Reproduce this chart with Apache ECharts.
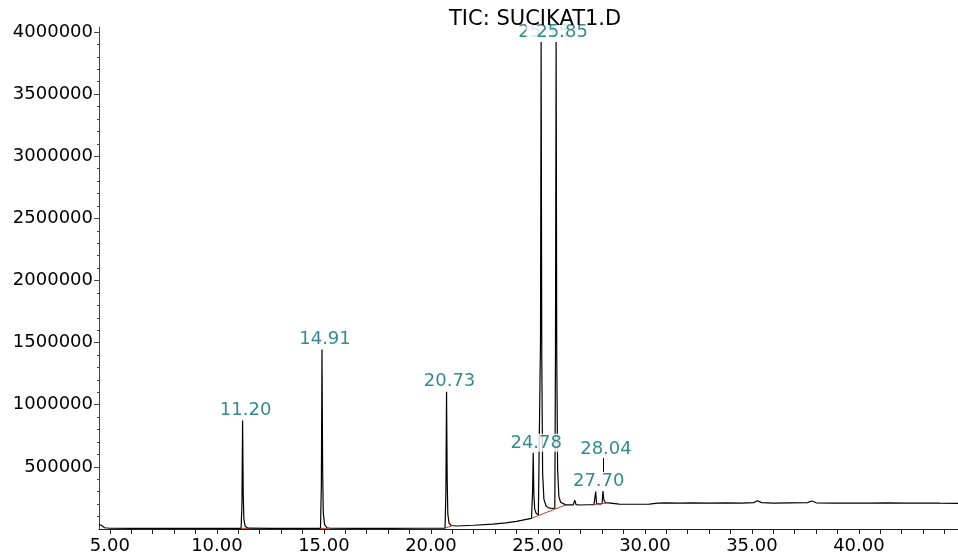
<!DOCTYPE html>
<html>
<head>
<meta charset="utf-8">
<script src="https://cdn.jsdelivr.net/npm/echarts@6/dist/echarts.min.js"></script>
<style>
html,body{margin:0;padding:0;background:#fff;}
#chart{width:958px;height:556px;}
</style>
</head>
<body>
<div id="chart"></div>
<script>
// ---- data (retention time in minutes, abundance) ----
const traceTimes = [
  4.49, 4.6, 4.75, 5.0, 6.0, 7.0, 8.0, 8.68, 8.72, 8.78, 9.5, 10.5,
  11.13, 11.17, 11.20, 11.23, 11.26, 11.32, 11.45, 12.5, 13.28, 13.32, 13.38, 14.0,
  14.84, 14.88, 14.91, 14.94, 14.97, 15.03, 15.15, 15.3, 16.5, 18.0, 19.5,
  20.66, 20.70, 20.73, 20.76, 20.79, 20.85, 20.95, 21.2, 22.0, 22.9, 22.97, 23.02,
  23.5, 24.0, 24.4, 24.7, 24.75, 24.78, 24.81, 24.85, 24.92, 25.02, 25.08,
  25.12, 25.15, 25.18, 25.22, 25.28, 25.38, 25.5, 25.65, 25.79,
  25.82, 25.85, 25.88, 25.92, 25.98, 26.06, 26.15, 26.3, 26.65, 26.72, 26.78,
  27.0, 27.3, 27.62, 27.66, 27.70, 27.74, 27.9, 28.0, 28.04, 28.08, 28.15, 28.3,
  28.8, 29.5, 30.2, 30.6, 31.0, 31.6, 32.2, 33.0, 33.8, 34.5, 35.1, 35.25, 35.45,
  36.0, 36.8, 37.6, 37.8, 38.0, 38.8, 39.6, 40.5, 41.3, 42.2, 43.0, 43.8, 44.63
];
const traceValues = [
  35000, 30000, 10000, 6000, 5000, 4500, 5000, 5000, 14000, 5000, 4500, 4500,
  5000, 200000, 873000, 280000, 80000, 22000, 7000, 5000, 5000, 15000, 5000, 4500,
  5000, 350000, 1444000, 480000, 130000, 35000, 10000, 6000, 5000, 5500, 6000,
  7000, 300000, 1105000, 400000, 120000, 45000, 28000, 24000, 30000, 40000, 55000, 42000,
  50000, 62000, 75000, 85000, 300000, 613000, 280000, 160000, 125000, 115000, 125000,
  1500000, 3920000, 1400000, 450000, 240000, 185000, 170000, 165000, 168000,
  1400000, 3920000, 1400000, 480000, 260000, 215000, 200000, 194000, 194000, 232000, 196000,
  193000, 195000, 196000, 200000, 301000, 205000, 200000, 205000, 305000, 235000, 213000, 210000,
  200000, 199000, 200000, 208000, 210000, 208000, 211000, 209000, 211000, 209000, 213000, 228000, 212000,
  208000, 211000, 212000, 225000, 211000, 209000, 208000, 209000, 211000, 208000, 209000, 208000, 207000
];

// integration baselines (red), null = gap
const baselineTimes  = [11.12, 11.42, 11.5, 14.83, 15.2, 15.3, 20.65, 20.98, 21.5, 24.68, 26.3, 26.5, 27.6, 28.25];
const baselineValues = [5000, 5000, null, 5000, 5000, null, 7000, 26000, null, 85000, 194000, null, 196000, 210000];

// peak annotations
const peakTimes  = [11.20, 14.91, 20.73, 24.78, 25.15, 25.85, 27.70, 28.04];
const peakApex   = [873000, 1444000, 1105000, 613000, 3920000, 3920000, 301000, 305000];
const peakLabels = ['11.20', '14.91', '20.73', '24.78', '25.15', '25.85', '27.70', '28.04'];

// axis ticks / labels
const xLabelValues = [5, 10, 15, 20, 25, 30, 35, 40];
const xTickValues  = [5,6,7,8,9,10,11,12,13,14,15,16,17,18,19,20,21,22,23,24,25,26,27,28,29,30,31,32,33,34,35,36,37,38,39,40,41,42,43,44];
const yLabelValues = [500000, 1000000, 1500000, 2000000, 2500000, 3000000, 3500000, 4000000];
const yMinorValues = [100000,200000,300000,400000,600000,700000,800000,900000,1100000,1200000,1300000,1400000,
  1600000,1700000,1800000,1900000,2100000,2200000,2300000,2400000,2600000,2700000,2800000,2900000,
  3100000,3200000,3300000,3400000,3600000,3700000,3800000,3900000];
const chartTitle = 'TIC: SUCIKAT1.D';
const leaderRange = [460000, 575000];

// ---- build ----
const FONT = 'DejaVu Sans';
const teal = '#006e70';
const traceData = traceTimes.map((t, i) => [t, traceValues[i]]);
const baseData = baselineTimes.map((t, i) => [t, baselineValues[i] === null ? '-' : baselineValues[i]]);
const labelData = peakTimes.map((t, i) => {
  const item = { value: [t, peakApex[i]], name: peakLabels[i] };
  if (peakLabels[i] === '25.85') {
    item.label = { padding: [0, 4, 0, 10] };
  }
  if (peakLabels[i] === '28.04') {
    item.label = { offset: [3, -32] };
  }
  return item;
});

const chart = echarts.init(document.getElementById('chart'));
chart.setOption({
  animation: false,
  backgroundColor: '#fff',
  title: {
    text: chartTitle,
    left: 444, top: 4,
    textStyle: { fontFamily: FONT, fontSize: 21, fontWeight: 'normal', color: '#000' }
  },
  grid: { left: 99, right: 0, top: 27, bottom: 27, containLabel: false },
  xAxis: {
    type: 'value', min: 4.49, max: 44.63,
    axisLine: { show: true, onZero: false, lineStyle: { color: '#222', width: 1 } },
    axisTick: { show: true, customValues: xTickValues, length: 5, lineStyle: { color: '#222' } },
    axisLabel: {
      customValues: xLabelValues, margin: 8,
      formatter: v => Number(v).toFixed(2),
      fontFamily: FONT, fontSize: 18, color: '#000'
    },
    splitLine: { show: false }
  },
  yAxis: [{
    type: 'value', min: 0, max: 4040000,
    axisLine: { show: true, lineStyle: { color: '#444', width: 1 } },
    axisTick: { show: true, customValues: yLabelValues, length: 5, lineStyle: { color: '#444' } },
    axisLabel: {
      customValues: yLabelValues, margin: 6,
      formatter: v => String(v),
      fontFamily: FONT, fontSize: 18, color: '#000'
    },
    splitLine: { show: false }
  }, {
    type: 'value', min: 0, max: 4040000, position: 'left',
    axisLine: { show: false },
    axisTick: { show: true, customValues: yMinorValues, length: 2, lineStyle: { color: '#444' } },
    axisLabel: { show: false },
    splitLine: { show: false }
  }],
  series: [{
    type: 'line', data: traceData, yAxisIndex: 0,
    symbol: 'none', lineStyle: { color: '#000', width: 1.2 }, z: 3, silent: true
  }, {
    type: 'line', data: baseData, yAxisIndex: 0, connectNulls: false,
    symbol: 'none', lineStyle: { color: '#c0392b', width: 1 }, z: 4, silent: true
  }, {
    type: 'scatter', data: labelData, yAxisIndex: 0,
    symbolSize: 0, z: 5, silent: true,
    label: {
      show: true, position: 'top', distance: 1, offset: [3, 0],
      backgroundColor: '#fff', padding: [0, 2],
      formatter: p => p.name,
      fontFamily: FONT, fontSize: 18, color: teal
    },
    markLine: {
      silent: true, symbol: ['none', 'none'], animation: false,
      label: { show: false },
      lineStyle: { color: '#000', width: 1, type: 'solid' },
      data: [[{ coord: [peakTimes[7], leaderRange[0]] }, { coord: [peakTimes[7], leaderRange[1]] }]]
    }
  }]
});
</script>
</body>
</html>
